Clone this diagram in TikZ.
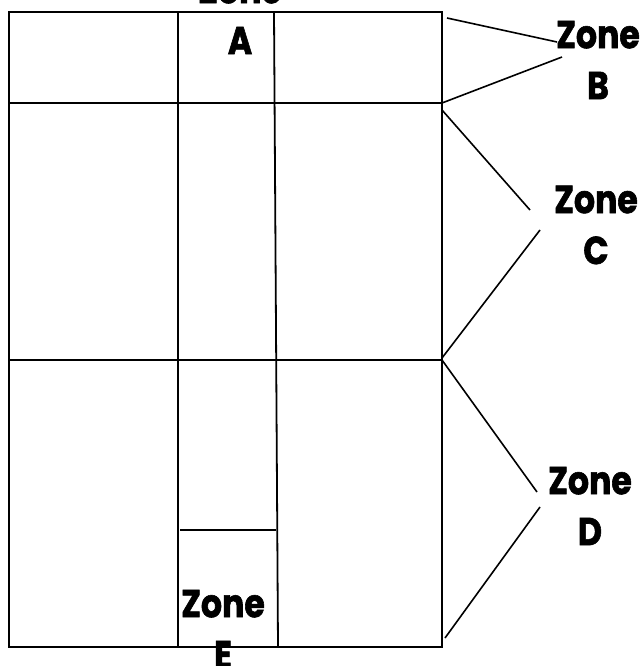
\documentclass[tikz,border=0pt]{standalone}
\usepackage{fontspec}
\newfontfamily\zonefont{Poppins}[FakeStretch=0.85,BoldFeatures={FakeBold=1.5}]
\begin{document}
\begin{tikzpicture}[x=1pt,y=-1pt,
  grid/.style={line width=1.8pt,black},
  border/.style={line width=2.2pt,black},
  lead/.style={line width=1.6pt,black},
  zone/.style={align=center,inner sep=0pt,font=\zonefont\bfseries\fontsize{39}{51}\selectfont}]
\useasboundingbox (0,0) rectangle (644,666);
\fill[white] (0,0) rectangle (644,666);
% grid
\draw[grid] (9,103) -- (442,103);
\draw[grid] (9,360) -- (442,360);
\draw[grid] (178,12) -- (178,647);
\draw[grid] (274,12) -- (278,647);
\draw[grid] (180,530) -- (276,530);
\draw[border] (9,12) rectangle (442,647);
% labels
\node[zone] (za) at (240,15) {Zone\\A};
\node[zone] (zb) at (598,60) {Zone\\B};
\node[zone] (zc) at (596,225) {Zone\\C};
\node[zone] (zd) at (590,506) {Zone\\D};
\node[zone] (ze) at (223,629) {Zone\\E};
% leader endpoints
\coordinate (b1) at (447,18);
\coordinate (b1e) at (557,42);
\coordinate (b2) at (442,103);
\coordinate (b2e) at (562,57);
\coordinate (c1) at (442,110);
\coordinate (c1e) at (530,210);
\coordinate (c2) at (442,358);
\coordinate (c2e) at (540,230);
\coordinate (d1) at (442,360);
\coordinate (d1e) at (537,492);
\coordinate (d2) at (445,638);
\coordinate (d2e) at (540,507);
\draw[lead] (b1) -- (b1e);
\draw[lead] (b2) -- (b2e);
\draw[lead] (c1) -- (c1e);
\draw[lead] (c2) -- (c2e);
\draw[lead] (d1) -- (d1e);
\draw[lead] (d2) -- (d2e);
\end{tikzpicture}
\end{document}
